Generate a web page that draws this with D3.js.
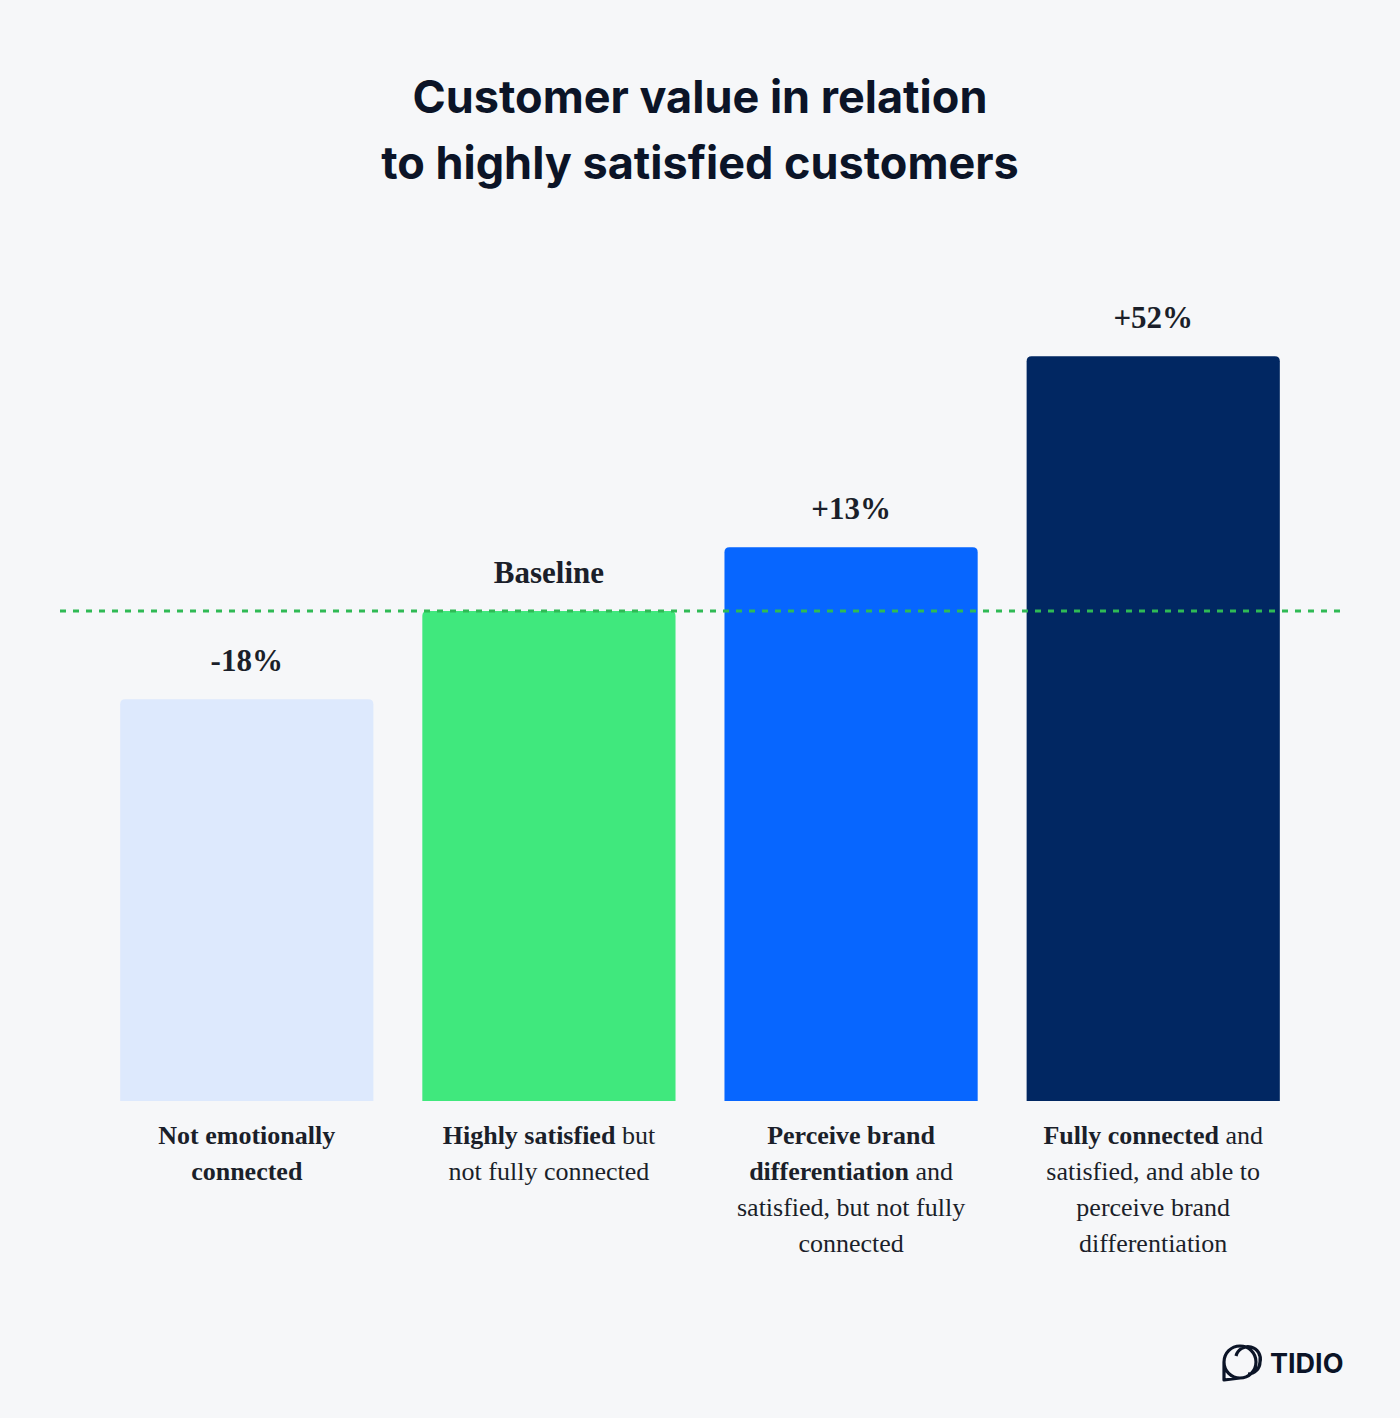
<!DOCTYPE html>
<html>
<head>
<meta charset="utf-8">
<script src="https://cdn.jsdelivr.net/npm/d3@7"></script>
<style>
  body { margin: 0; background: #f6f7f9; }
</style>
</head>
<body>
<div id="graf"></div>
<script>
// datos
categorias = ['Not emotionally connected', 'Highly satisfied but not fully connected',
              'Perceive brand differentiation and satisfied, but not fully connected',
              'Fully connected and satisfied, and able to perceive brand differentiation']
valores = [82, 100, 113, 152]
etiquetas = ['-18%', 'Baseline', '+13%', '+52%']
colores = ['#dde9fd', '#40e87d', '#0766ff', '#012762']
// lineas de cada etiqueta: [texto, negrita]
lineas = [
  [[['Not emotionally', true]], [['connected', true]]],
  [[['Highly satisfied', true], [' but', false]], [['not fully connected', false]]],
  [[['Perceive brand', true]], [['differentiation', true], [' and', false]],
   [['satisfied, but not fully', false]], [['connected', false]]],
  [[['Fully connected', true], [' and', false]], [['satisfied, and able to', false]],
   [['perceive brand', false]], [['differentiation', false]]]
]

ancho_total = 1400
alto_total = 1418

svg = d3.select('#graf').append('svg')
  .attr('width', ancho_total).attr('height', alto_total)
  .style('background', '#f6f7f9')

// titulo
titulo = ['Customer value in relation', 'to highly satisfied customers']
titulo.forEach((t, i) => {
  svg.append('text')
    .attr('x', 700).attr('y', 113 + i * 66)
    .attr('text-anchor', 'middle')
    .attr('font-family', 'Inter, sans-serif')
    .attr('font-weight', 700)
    .attr('font-size', '45px')
    .attr('fill', '#0b1427')
    .text(t)
})

// escaladores
x = d3.scaleBand().domain(categorias).range([96, 1304]).paddingInner(0.162).paddingOuter(0.08)
y = d3.scaleLinear().domain([0, 100]).range([1101, 611])

serif = '"Liberation Serif", "DejaVu Serif", serif'

// barras
svg.selectAll('path.bar').data(categorias).enter()
  .append('path')
  .attr('class', 'bar')
  .attr('fill', (d, i) => colores[i])
  .attr('d', (d, i) => {
    x0 = x(d); w = x.bandwidth(); y0 = y(valores[i]); y1 = y(0); r = 5
    return `M${x0},${y1} V${y0 + r} Q${x0},${y0} ${x0 + r},${y0} H${x0 + w - r} Q${x0 + w},${y0} ${x0 + w},${y0 + r} V${y1} Z`
  })

// linea base
svg.append('line')
  .attr('x1', 60).attr('x2', 1340)
  .attr('y1', y(100)).attr('y2', y(100))
  .attr('stroke', '#2fba55').attr('stroke-width', 3)
  .attr('stroke-dasharray', '6,7')

// etiquetas de valor
svg.selectAll('text.val').data(categorias).enter()
  .append('text')
  .attr('class', 'val')
  .attr('x', d => x(d) + x.bandwidth() / 2)
  .attr('y', (d, i) => y(valores[i]) - 28)
  .attr('text-anchor', 'middle')
  .attr('font-family', serif)
  .attr('font-weight', 700)
  .attr('font-size', '31px')
  .attr('fill', '#1b1f2a')
  .text((d, i) => etiquetas[i])

// etiquetas de categoria
categorias.forEach((c, i) => {
  lineas[i].forEach((ln, j) => {
    t = svg.append('text')
      .attr('x', x(c) + x.bandwidth() / 2)
      .attr('y', 1144 + j * 36)
      .attr('text-anchor', 'middle')
      .attr('font-family', serif)
      .attr('font-size', '26px')
      .attr('fill', '#1b1f2a')
    ln.forEach(s => {
      t.append('tspan').attr('font-weight', s[1] ? 700 : 400).text(s[0])
    })
  })
})

// logo
logo = svg.append('g').attr('transform', 'translate(1222,1342)')
logo.append('path')
  .attr('d', 'M2,38 V20 A16,16 0 0 1 34,20 A16,16 0 0 1 18,36 Z M18,36 A16,16 0 0 1 18,4 M14,14 A12,12 0 0 1 38,20 A12,12 0 0 1 26,32')
  .attr('fill', 'none').attr('stroke', '#0b1427').attr('stroke-width', 3.2)
  .attr('stroke-linejoin', 'round')
logo.append('text')
  .attr('x', 48).attr('y', 31)
  .attr('font-family', 'Inter, sans-serif')
  .attr('font-weight', 700)
  .attr('font-size', '27px')
  .attr('fill', '#0b1427')
  .text('TIDIO')
</script>
</body>
</html>
